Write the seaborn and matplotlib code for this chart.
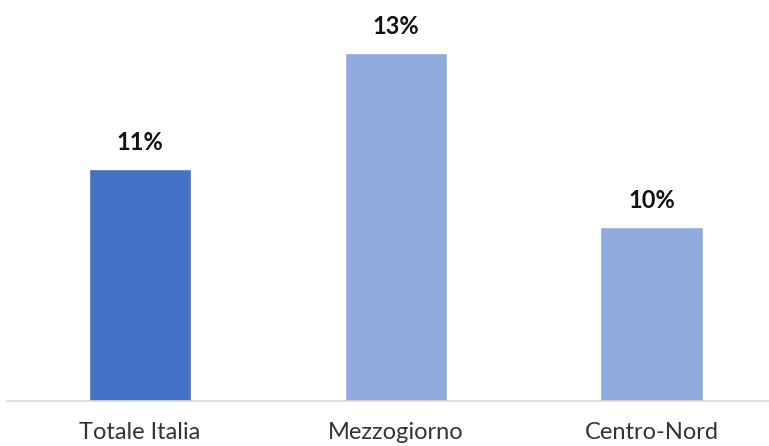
import matplotlib
matplotlib.use("Agg")
import matplotlib.pyplot as plt
import seaborn as sns
import pandas as pd

# Values
categories = ["Totale Italia", "Mezzogiorno", "Centro-Nord"]
values = [11, 13, 10]
labels = ["11%", "13%", "10%"]
colors = ["#4472C4", "#8FAADC", "#8FAADC"]

sns.set_style("white")
plt.rcParams["font.family"] = ["Lato", "DejaVu Sans"]

df = pd.DataFrame({"area": categories, "value": values})

fig = plt.figure(figsize=(7.69, 4.46), dpi=100)
ax = fig.add_axes([0.0091, 0.1009, 0.9909, 0.8991])

sns.barplot(data=df, x="area", y="value", hue="area", palette=colors,
            width=0.4, legend=False, ax=ax, saturation=1)

ax.set_ylim(7, 7 + 401 / 58)
ax.set_xlim(-0.52, 2.46)

for i, (v, lab) in enumerate(zip(values, labels)):
    ax.annotate(lab, (i, v), xytext=(0, 14), textcoords="offset points",
                ha="center", va="baseline", fontsize=17, fontweight="bold",
                color="#111111", annotation_clip=False)

for s in ["top", "left", "right"]:
    ax.spines[s].set_visible(False)
ax.spines["bottom"].set_color("#D9D9D9")
ax.spines["bottom"].set_linewidth(1.2)

ax.set_yticks([])
ax.set_xlabel("")
ax.set_ylabel("")
ax.tick_params(axis="x", length=0, pad=15, labelsize=17, labelcolor="#333333")

fig.savefig("out.png", dpi=100)
